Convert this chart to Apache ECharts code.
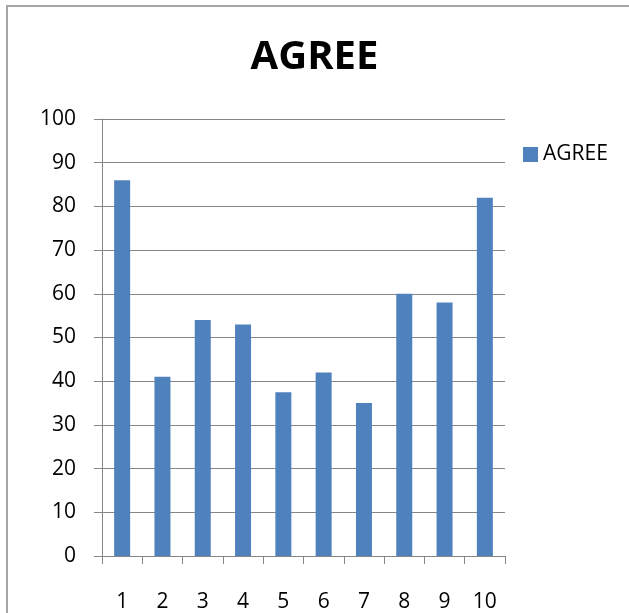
<!DOCTYPE html>
<html>
<head>
<meta charset="utf-8">
<script src="https://cdn.jsdelivr.net/npm/echarts@6/dist/echarts.min.js"></script>
<style>
  html, body { margin: 0; padding: 0; background: #fff; }
  #chart { width: 629px; height: 613px; }
</style>
</head>
<body>
<div id="chart"></div>
<script>
// data
const categories = ['1', '2', '3', '4', '5', '6', '7', '8', '9', '10']
const agreeValues = [86, 41, 54, 53, 37.5, 42, 35, 60, 58, 82]
const yTicks = { min: 0, max: 100, interval: 10 }

const font = '"Open Sans", "Liberation Sans", sans-serif'
const lineColor = '#868686'

const chart = echarts.init(document.getElementById('chart'))

const option = {
  animation: false,
  backgroundColor: '#fff',
  title: {
    text: 'AGREE',
    left: 'center',
    top: 33,
    textStyle: {
      fontFamily: font,
      fontWeight: 'bold',
      fontSize: 40,
      color: '#000'
    }
  },
  legend: {
    data: ['AGREE'],
    left: 518,
    top: 139,
    itemWidth: 15,
    itemHeight: 15,
    icon: 'rect',
    textStyle: {
      fontFamily: font,
      fontSize: 21,
      color: '#000'
    }
  },
  grid: {
    left: 102,
    right: 124,
    top: 119,
    bottom: 54
  },
  xAxis: {
    type: 'category',
    data: categories,
    axisLine: { lineStyle: { color: lineColor, width: 1 } },
    axisTick: { show: true, length: 8, lineStyle: { color: lineColor } },
    axisLabel: {
      margin: 36,
      fontFamily: font,
      fontSize: 21,
      color: '#000'
    }
  },
  yAxis: {
    type: 'value',
    min: yTicks.min,
    max: yTicks.max,
    interval: yTicks.interval,
    axisLine: { show: true, lineStyle: { color: lineColor, width: 1 } },
    axisTick: { show: true, length: 8, lineStyle: { color: lineColor } },
    splitLine: { show: true, lineStyle: { color: lineColor, width: 1 } },
    axisLabel: {
      margin: 26,
      fontFamily: font,
      fontSize: 21,
      color: '#000'
    }
  },
  series: [
    {
      name: 'AGREE',
      type: 'bar',
      data: agreeValues,
      barWidth: 16,
      itemStyle: { color: '#4f81bd' }
    }
  ],
  graphic: [
    {
      type: 'rect',
      shape: { x: 7, y: 6, width: 700, height: 700 },
      style: { fill: 'none', stroke: '#a6a6a6', lineWidth: 2 },
      silent: true
    }
  ]
}

chart.setOption(option)
</script>
</body>
</html>
